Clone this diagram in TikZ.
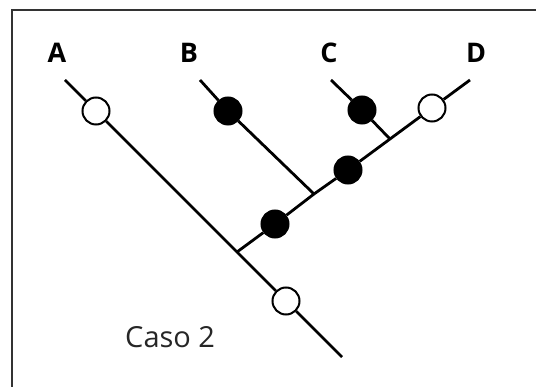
\documentclass[tikz,border=0pt]{standalone}
\usepackage{fontspec}
\setmainfont{Open Sans}
\begin{document}
\begin{tikzpicture}[x=1pt,y=-1pt,
  branch/.style={line width=2.8pt},
  opencirc/.style={circle,draw,line width=2pt,fill=white,minimum size=27pt,inner sep=0pt},
  fullcirc/.style={circle,draw,line width=2pt,fill=black,minimum size=27pt,inner sep=0pt},
  taxon/.style={font=\fontsize{27}{27}\selectfont\bfseries,inner sep=0pt},
  caption/.style={font=\fontsize{29}{29}\selectfont,text=black!85,inner sep=0pt,anchor=base west},
  frame/.style={line width=2.8pt,draw=black!80}]
\useasboundingbox (0,0) rectangle (536,387);
% frame (top and left edges)
\coordinate (fbl) at (12,390);
\coordinate (ftl) at (12,10);
\coordinate (ftr) at (540,10);
\draw[frame] (fbl) -- (ftl) -- (ftr);
% labels
\node[taxon] (lA) at (57,53) {A};
\node[taxon] (lB) at (189,53) {B};
\node[taxon] (lC) at (329,53) {C};
\node[taxon] (lD) at (476,53) {D};
\node[caption] (caso) at (125,348) {Caso 2};
% coordinates
\coordinate (eA) at (65,80);
\coordinate (jAD) at (237,252);
\coordinate (eA2) at (342,357);
\coordinate (eB) at (200,80);
\coordinate (jB) at (314,194);
\coordinate (eC) at (331,80);
\coordinate (jC) at (390,139);
\coordinate (eD) at (470,80);
% circles
\node[opencirc] (cA) at (96,111) {};
\node[opencirc] (cA2) at (286,301) {};
\node[fullcirc] (cB) at (228,111) {};
\node[fullcirc] (cC) at (362,110) {};
\node[fullcirc] (cD1) at (275,224) {};
\node[fullcirc] (cD2) at (348,170) {};
\node[opencirc] (cD) at (432,108) {};
% branches
\draw[branch] (eA) -- (cA) -- (jAD) -- (cA2) -- (eA2);
\draw[branch] (jAD) -- (cD1) -- (jB) -- (cD2) -- (jC) -- (cD) -- (eD);
\draw[branch] (eB) -- (cB) -- (jB);
\draw[branch] (eC) -- (cC) -- (jC);
\end{tikzpicture}
\end{document}
